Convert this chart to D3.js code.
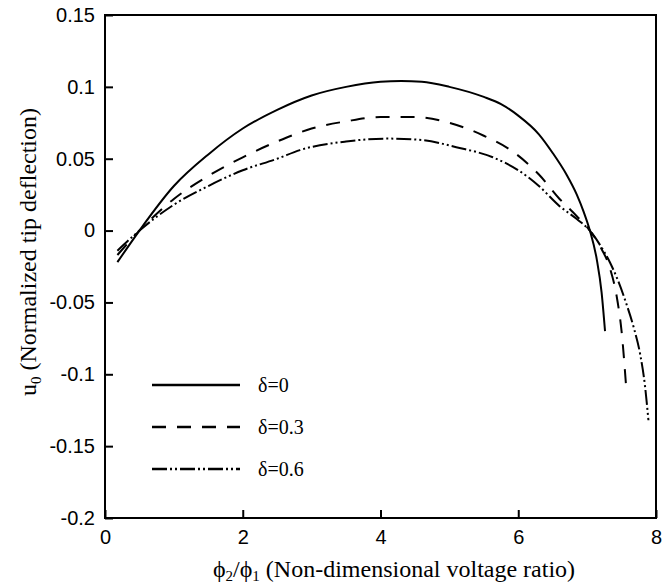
<!DOCTYPE html>
<html>
<head>
<meta charset="utf-8">
<script src="https://cdn.jsdelivr.net/npm/d3@7"></script>
<style>
  body { margin: 0; background: #fff; }
  svg { display: block; }
</style>
</head>
<body>
<svg id="chart"></svg>
<script>
// series: [voltage ratio, tip deflection]
const deltas = ["0", "0.3", "0.6"];

const delta0 = [
  [0.18, -0.022], [0.5, 0.0], [1.0, 0.031], [1.5, 0.053], [2.0, 0.071],
  [2.5, 0.084], [3.0, 0.094], [3.5, 0.100], [4.0, 0.1035], [4.3, 0.104],
  [4.6, 0.1035], [5.0, 0.1], [5.5, 0.093], [5.75, 0.088], [6.0, 0.08],
  [6.3, 0.067], [6.5, 0.054], [6.7, 0.039], [6.85, 0.025], [6.95, 0.013],
  [7.04, 0.0], [7.14, -0.02], [7.21, -0.043], [7.26, -0.07]
];

const delta03 = [
  [0.18, -0.017], [0.5, 0.0], [1.0, 0.022], [1.5, 0.038], [2.0, 0.051],
  [2.5, 0.062], [3.0, 0.071], [3.5, 0.076], [4.0, 0.079], [4.5, 0.079],
  [5.0, 0.075], [5.5, 0.066], [5.92, 0.055], [6.3, 0.039], [6.6, 0.022],
  [6.85, 0.01], [7.04, 0.0], [7.2, -0.012], [7.33, -0.026], [7.43, -0.046],
  [7.5, -0.07], [7.57, -0.111]
];

const delta06 = [
  [0.18, -0.014], [0.5, 0.0], [1.0, 0.018], [1.5, 0.031], [2.0, 0.042],
  [2.5, 0.050], [2.83, 0.056], [3.5, 0.062], [4.1, 0.064], [4.6, 0.063],
  [5.1, 0.058], [5.63, 0.051], [6.0, 0.042], [6.3, 0.031], [6.6, 0.017],
  [6.85, 0.008], [7.04, 0.0], [7.2, -0.011], [7.33, -0.022], [7.45, -0.035],
  [7.57, -0.051], [7.68, -0.068], [7.77, -0.086], [7.84, -0.108], [7.89, -0.132]
];

const xTicks = [0, 2, 4, 6, 8];
const yTicks = [0.15, 0.1, 0.05, 0, -0.05, -0.1, -0.15, -0.2];

const width = 665, height = 584;
const margin = { top: 15, right: 9, bottom: 66, left: 105 };

const svg = d3.select("#chart")
    .attr("width", width)
    .attr("height", height);

const x = d3.scaleLinear().domain([0, 8]).range([margin.left, width - margin.right]);
const y = d3.scaleLinear().domain([-0.2, 0.15]).range([height - margin.bottom, margin.top]);

// axes with inward ticks
const xAxis = d3.axisBottom(x).tickValues(xTicks).tickSize(-8).tickPadding(12)
    .tickFormat(d3.format("d"));
const yAxis = d3.axisLeft(y).tickValues(yTicks).tickSize(-8).tickPadding(10)
    .tickFormat(d => d === 0 ? "0" : String(+d.toFixed(2)));

const gx = svg.append("g")
    .attr("transform", `translate(0,${y(-0.2)})`)
    .call(xAxis);
const gy = svg.append("g")
    .attr("transform", `translate(${x(0)},0)`)
    .call(yAxis);

[gx, gy].forEach(g => {
  g.selectAll(".domain").remove();
  g.selectAll("line").attr("stroke", "#000").attr("stroke-width", 2);
  g.selectAll("text")
    .style("font-family", "'Liberation Sans', Arial, sans-serif")
    .style("font-size", "20px")
    .attr("fill", "#000");
});

// frame
svg.append("rect")
    .attr("x", x(0)).attr("y", y(0.15))
    .attr("width", x(8) - x(0)).attr("height", y(-0.2) - y(0.15))
    .attr("fill", "none").attr("stroke", "#000").attr("stroke-width", 2);

const line = d3.line()
    .x(d => x(d[0]))
    .y(d => y(d[1]))
    .curve(d3.curveMonotoneX);

const styles = [
  { data: delta0, dash: null },
  { data: delta03, dash: "14,11" },
  { data: delta06, dash: "15,3,2,3,2,3" }
];

svg.append("g").selectAll("path")
  .data(styles)
  .join("path")
    .attr("d", d => line(d.data))
    .attr("fill", "none")
    .attr("stroke", "#000")
    .attr("stroke-width", 2)
    .attr("stroke-dasharray", d => d.dash);

const serif = "'Liberation Serif', 'Times New Roman', serif";

// legend
const legend = svg.append("g");
styles.forEach((s, i) => {
  const ly = 385 + i * 42;
  legend.append("line")
    .attr("x1", 152).attr("x2", 240)
    .attr("y1", ly).attr("y2", ly)
    .attr("stroke", "#000").attr("stroke-width", 2.5)
    .attr("stroke-dasharray", s.dash);
  legend.append("text")
    .attr("x", 258).attr("y", ly + 7)
    .style("font-family", serif)
    .style("font-size", "20px")
    .text("δ=" + deltas[i]);
});

// axis titles
const xt = svg.append("text")
    .attr("x", 394).attr("y", 577)
    .attr("text-anchor", "middle")
    .style("font-family", serif)
    .style("font-size", "24px");
xt.append("tspan").text("ϕ");
xt.append("tspan").attr("dy", 4).style("font-size", "15px").text("2");
xt.append("tspan").attr("dy", -4).text("/ϕ");
xt.append("tspan").attr("dy", 4).style("font-size", "15px").text("1");
xt.append("tspan").attr("dy", -4).text(" (Non-dimensional voltage ratio)");

const yt = svg.append("text")
    .attr("transform", `translate(36,252) rotate(-90)`)
    .attr("text-anchor", "middle")
    .style("font-family", serif)
    .style("font-size", "24px");
yt.append("tspan").text("u");
yt.append("tspan").attr("dy", 5).style("font-size", "15px").text("0");
yt.append("tspan").attr("dy", -5).text(" (Normalized tip deflection)");
</script>
</body>
</html>
